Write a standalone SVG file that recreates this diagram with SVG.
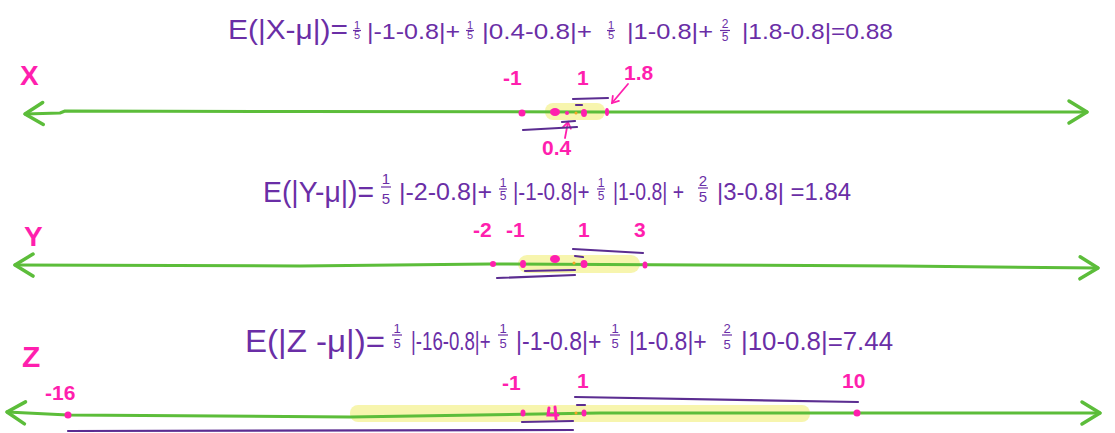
<svg xmlns="http://www.w3.org/2000/svg" width="1115" height="433" viewBox="0 0 1115 433">
<defs>
<style>
.axis{fill:none;stroke:#5cbd3a;stroke-width:3;stroke-linecap:round;stroke-linejoin:round}
.hl{fill:#f6f3a0;opacity:0.85}
.pl{fill:none;stroke:#5b2d91;stroke-width:2.2;stroke-linecap:round}
.dot{fill:#ff1fae}
.od{fill:#f5a623}
.mg{fill:#ff1fae;font-family:"Liberation Sans",Arial,sans-serif;font-weight:bold}
.eq{fill:#6a2ea6;font-family:"Liberation Sans",Arial,sans-serif}
.fb{stroke:#6a2ea6;stroke-width:1.2}
.ma{fill:none;stroke:#ff1fae;stroke-width:1.8;stroke-linecap:round}
</style>
<marker id="ah" viewBox="-22 -14 26 28" refX="0" refY="0" markerWidth="26" markerHeight="28" markerUnits="userSpaceOnUse" orient="auto-start-reverse">
<path d="M -18 -11 L 0 0 L -18 11" fill="none" stroke="#5cbd3a" stroke-width="3.5" stroke-linecap="round" stroke-linejoin="round"/>
</marker>
<marker id="mh" viewBox="-8 -6 10 12" refX="0" refY="0" markerWidth="10" markerHeight="12" markerUnits="userSpaceOnUse" orient="auto">
<path d="M -6 -4 L 0 0 L -6 4" fill="none" stroke="#ff1fae" stroke-width="1.8" stroke-linecap="round"/>
</marker>
</defs>
<rect width="1115" height="433" fill="#ffffff"/>

<!-- highlights -->
<g id="highlights">
<rect class="hl" x="545" y="103" width="60" height="17" rx="8"/>
<rect class="hl" x="518" y="255" width="122" height="18" rx="9"/>
<rect class="hl" x="350" y="405" width="460" height="17" rx="8"/>
</g>

<!-- connectors: number lines and small arrows -->
<g id="connectors">
<path class="axis" d="M 25 114 L 60 113 L 65 111 L 300 111.5 L 600 112 L 900 112 L 1087 112" marker-start="url(#ah)" marker-end="url(#ah)"/>
<path class="axis" d="M 15 265 L 300 266 L 490 264 L 700 265 L 900 266 L 1098 268" marker-start="url(#ah)" marker-end="url(#ah)"/>
<path class="axis" d="M 7 412 L 68 415 L 350 417 L 600 413 L 800 413 L 1100 413" marker-start="url(#ah)" marker-end="url(#ah)"/>
<path class="ma" d="M 628 84 L 612 103" marker-end="url(#mh)"/>
<path class="ma" d="M 565 138 L 568 122" marker-end="url(#mh)"/>
</g>

<!-- distance bars -->
<g id="bars">
<path class="pl" d="M 573 99 L 608 98"/>
<path class="pl" d="M 576 105 L 582 105"/>
<path class="pl" d="M 523 130 L 577 127"/>
<path class="pl" d="M 562 122 L 575 121"/>
<path class="pl" d="M 573 249 L 643 253"/>
<path class="pl" d="M 575 256 L 583 257"/>
<path class="pl" d="M 497 278 L 575 275"/>
<path class="pl" d="M 525 271 L 575 270"/>
<path class="pl" d="M 575 397 L 858 402"/>
<path class="pl" d="M 577 405 L 585 405"/>
<path class="pl" d="M 68 431 L 573 430"/>
<path class="pl" d="M 522 422 L 573 421"/>
</g>

<!-- X number line -->
<g id="nodeX">
<text class="mg" x="20" y="85" font-size="28" font-weight="normal">X</text>
<text class="mg" x="503" y="85" font-size="21">-1</text>
<text class="mg" x="577" y="85" font-size="21">1</text>
<text class="mg" x="624" y="80" font-size="21">1.8</text>
<text class="mg" x="542" y="155" font-size="21">0.4</text>
<circle class="dot" cx="522" cy="113" r="3.5"/>
<ellipse class="dot" cx="555" cy="112" rx="5" ry="4"/>
<circle class="dot" cx="567" cy="113" r="2"/>
<circle class="od" cx="576" cy="113" r="1.5"/>
<ellipse class="dot" cx="584" cy="113" rx="3" ry="4"/>
<ellipse class="dot" cx="607" cy="112" rx="2" ry="4"/>
</g>

<!-- Y number line -->
<g id="nodeY">
<text class="mg" x="24" y="246" font-size="28" font-weight="normal">Y</text>
<text class="mg" x="473" y="237" font-size="21">-2</text>
<text class="mg" x="506" y="237" font-size="21">-1</text>
<text class="mg" x="578" y="237" font-size="21">1</text>
<text class="mg" x="634" y="237" font-size="21">3</text>
<circle class="dot" cx="493" cy="264" r="3"/>
<ellipse class="dot" cx="523" cy="264" rx="3" ry="4"/>
<ellipse class="dot" cx="555" cy="259" rx="5" ry="4"/>
<circle class="od" cx="574" cy="263" r="1.5"/>
<ellipse class="dot" cx="584" cy="264" rx="3.5" ry="4"/>
<ellipse class="dot" cx="645" cy="265" rx="2.5" ry="3.5"/>
</g>

<!-- Z number line -->
<g id="nodeZ">
<text class="mg" x="22" y="367" font-size="30" font-weight="normal">Z</text>
<text class="mg" x="45" y="400" font-size="21">-16</text>
<text class="mg" x="502" y="390" font-size="21">-1</text>
<text class="mg" x="577" y="388" font-size="21">1</text>
<text class="mg" x="842" y="388" font-size="21">10</text>
<circle class="dot" cx="68" cy="415" r="3.5"/>
<ellipse class="dot" cx="523" cy="413" rx="2.5" ry="3.5"/>
<path d="M 549 408 L 548 415 L 558 415 M 555 407 L 556 419" fill="none" stroke="#ff1fae" stroke-width="3" stroke-linecap="round"/>
<circle class="od" cx="576" cy="413" r="1.5"/>
<ellipse class="dot" cx="584" cy="413" rx="2.5" ry="3.5"/>
<circle class="dot" cx="857" cy="413" r="3.5"/>
</g>

<!-- Equation X -->
<g id="eqX" class="eq">
<text x="228" y="39" font-size="27" textLength="120" lengthAdjust="spacingAndGlyphs">E(|X-μ|)=</text>
<text x="357" y="29" font-size="11" text-anchor="middle">1</text><line class="fb" x1="353" y1="30.5" x2="361" y2="30.5"/><text x="357" y="39" font-size="11" text-anchor="middle">5</text>
<text x="367" y="39" font-size="22" textLength="93" lengthAdjust="spacingAndGlyphs">|-1-0.8|+</text>
<text x="470" y="29" font-size="11" text-anchor="middle">1</text><line class="fb" x1="466" y1="30.5" x2="474" y2="30.5"/><text x="470" y="39" font-size="11" text-anchor="middle">5</text>
<text x="482" y="39" font-size="22" textLength="110" lengthAdjust="spacingAndGlyphs">|0.4-0.8|+</text>
<text x="611" y="29" font-size="11" text-anchor="middle">1</text><line class="fb" x1="607" y1="30.5" x2="615" y2="30.5"/><text x="611" y="39" font-size="11" text-anchor="middle">5</text>
<text x="627" y="39" font-size="22" textLength="86" lengthAdjust="spacingAndGlyphs">|1-0.8|+</text>
<text x="725" y="28" font-size="12" text-anchor="middle">2</text><line class="fb" x1="720" y1="30.5" x2="730" y2="30.5"/><text x="725" y="41" font-size="12" text-anchor="middle">5</text>
<text x="742" y="39" font-size="22" textLength="151" lengthAdjust="spacingAndGlyphs">|1.8-0.8|=0.88</text>
</g>

<!-- Equation Y -->
<g id="eqY" class="eq">
<text transform="translate(263 202) scale(0.945 1)" font-size="30">E(|Y-μ|)=</text>
<text x="386" y="184" font-size="15" text-anchor="middle">1</text><line class="fb" x1="381" y1="187" x2="391" y2="187"/><text x="386" y="204" font-size="15" text-anchor="middle">5</text>
<text x="399" y="200" font-size="24" textLength="93" lengthAdjust="spacingAndGlyphs">|-2-0.8|+</text>
<text x="503" y="187" font-size="12" text-anchor="middle">1</text><line class="fb" x1="499" y1="189" x2="507" y2="189"/><text x="503" y="200" font-size="12" text-anchor="middle">5</text>
<text transform="translate(513 200) scale(0.86 1)" font-size="24">|-1-0.8|+</text>
<text x="601" y="187" font-size="12" text-anchor="middle">1</text><line class="fb" x1="597" y1="189" x2="605" y2="189"/><text x="601" y="200" font-size="12" text-anchor="middle">5</text>
<text transform="translate(613 200) scale(0.81 1)" font-size="24">|1-0.8| +</text>
<text x="703" y="186" font-size="15" text-anchor="middle">2</text><line class="fb" x1="698" y1="188" x2="708" y2="188"/><text x="703" y="202" font-size="15" text-anchor="middle">5</text>
<text x="717" y="200" font-size="24" textLength="134" lengthAdjust="spacingAndGlyphs">|3-0.8| =1.84</text>
</g>

<!-- Equation Z -->
<g id="eqZ" class="eq">
<text x="245" y="352" font-size="32" textLength="140" lengthAdjust="spacingAndGlyphs">E(|Z -μ|)=</text>
<text x="397" y="333" font-size="13" text-anchor="middle">1</text><line class="fb" x1="392" y1="335" x2="402" y2="335"/><text x="397" y="348" font-size="13" text-anchor="middle">5</text>
<text transform="translate(411 350) scale(0.745 1)" font-size="25">|-16-0.8|+</text>
<text x="503" y="333" font-size="13" text-anchor="middle">1</text><line class="fb" x1="498" y1="335" x2="508" y2="335"/><text x="503" y="348" font-size="13" text-anchor="middle">5</text>
<text transform="translate(516 350) scale(0.92 1)" font-size="25">|-1-0.8|+</text>
<text x="615" y="333" font-size="13" text-anchor="middle">1</text><line class="fb" x1="610" y1="335" x2="620" y2="335"/><text x="615" y="348" font-size="13" text-anchor="middle">5</text>
<text transform="translate(629 350) scale(0.92 1)" font-size="25">|1-0.8|+</text>
<text x="727" y="333" font-size="13" text-anchor="middle">2</text><line class="fb" x1="722" y1="335" x2="732" y2="335"/><text x="727" y="349" font-size="13" text-anchor="middle">5</text>
<text x="741" y="350" font-size="25" textLength="152" lengthAdjust="spacingAndGlyphs">|10-0.8|=7.44</text>
</g>
</svg>
